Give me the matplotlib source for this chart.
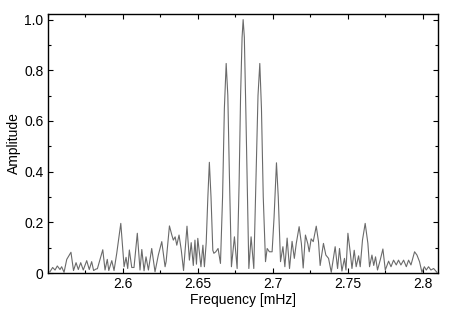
import numpy as np
import matplotlib
matplotlib.use("Agg")
import matplotlib.pyplot as plt
from matplotlib.ticker import MultipleLocator

# frequency [mHz] and amplitude (peaks and troughs)
freq = [
    2.5515, 2.5533, 2.5549, 2.5564, 2.5582, 2.5593, 2.5609, 2.5627, 2.5655, 2.5672,
    2.5689, 2.5704, 2.5720, 2.5737, 2.5760, 2.5777, 2.5793, 2.5806, 2.5822, 2.5831,
    2.5867, 2.5882, 2.5897, 2.5907, 2.5927, 2.5942, 2.5960, 2.5987, 2.6009, 2.6022,
    2.6033, 2.6044, 2.6060, 2.6075, 2.6097, 2.6115, 2.6127, 2.6142, 2.6155, 2.6171,
    2.6193, 2.6215, 2.6237, 2.6260, 2.6282, 2.6289, 2.6311, 2.6327, 2.6337, 2.6349,
    2.6360, 2.6375, 2.6390, 2.6405, 2.6428, 2.6444, 2.6456, 2.6470, 2.6481, 2.6491,
    2.6500, 2.6521, 2.6534, 2.6544, 2.6556, 2.6567, 2.6577, 2.6588, 2.6600, 2.6607,
    2.6620, 2.6635, 2.6651, 2.6665, 2.6677, 2.6689, 2.6700, 2.6710, 2.6724, 2.6744,
    2.6762, 2.6775, 2.6785, 2.6795, 2.6802, 2.6810, 2.6820, 2.6829, 2.6840, 2.6855,
    2.6873, 2.6889, 2.6901, 2.6913, 2.6924, 2.6936, 2.6951, 2.6962, 2.6977, 2.6995,
    2.7008, 2.7016, 2.7024, 2.7036, 2.7051, 2.7067, 2.7080, 2.7095, 2.7111, 2.7128,
    2.7143, 2.7156, 2.7175, 2.7190, 2.7202, 2.7217, 2.7233, 2.7242, 2.7255, 2.7269,
    2.7289, 2.7304, 2.7315, 2.7337, 2.7353, 2.7371, 2.7389, 2.7415, 2.7431, 2.7444,
    2.7460, 2.7477, 2.7487, 2.7500, 2.7515, 2.7527, 2.7542, 2.7555, 2.7571, 2.7582,
    2.7597, 2.7615, 2.7633, 2.7644, 2.7660, 2.7672, 2.7684, 2.7697, 2.7715, 2.7733,
    2.7749, 2.7771, 2.7787, 2.7804, 2.7822, 2.7837, 2.7853, 2.7871, 2.7889, 2.7904,
    2.7920, 2.7944, 2.7960, 2.7977, 2.7993, 2.8009, 2.8022, 2.8037, 2.8053, 2.8071,
    2.8093,
]
amp = [
    0.005, 0.022, 0.012, 0.028, 0.014, 0.025, 0.003, 0.054, 0.082, 0.010,
    0.041, 0.014, 0.041, 0.012, 0.049, 0.014, 0.045, 0.010, 0.016, 0.017,
    0.092, 0.012, 0.054, 0.010, 0.049, 0.010, 0.078, 0.196, 0.025, 0.062,
    0.018, 0.091, 0.022, 0.022, 0.157, 0.012, 0.093, 0.009, 0.064, 0.012,
    0.097, 0.005, 0.071, 0.124, 0.025, 0.045, 0.186, 0.150, 0.130, 0.143,
    0.110, 0.150, 0.090, 0.010, 0.185, 0.051, 0.120, 0.030, 0.130, 0.035,
    0.137, 0.025, 0.110, 0.025, 0.120, 0.300, 0.437, 0.300, 0.090, 0.078,
    0.084, 0.097, 0.038, 0.300, 0.650, 0.827, 0.700, 0.400, 0.025, 0.143,
    0.018, 0.350, 0.700, 0.930, 1.000, 0.930, 0.640, 0.350, 0.018, 0.143,
    0.018, 0.400, 0.700, 0.827, 0.650, 0.300, 0.045, 0.097, 0.084, 0.084,
    0.220, 0.330, 0.435, 0.300, 0.045, 0.104, 0.025, 0.138, 0.018, 0.125,
    0.058, 0.117, 0.183, 0.117, 0.020, 0.150, 0.115, 0.084, 0.135, 0.124,
    0.185, 0.124, 0.030, 0.117, 0.071, 0.058, 0.003, 0.104, 0.018, 0.097,
    0.008, 0.058, 0.012, 0.157, 0.084, 0.018, 0.090, 0.025, 0.068, 0.025,
    0.130, 0.196, 0.117, 0.025, 0.071, 0.030, 0.064, 0.012, 0.051, 0.095,
    0.012, 0.047, 0.025, 0.051, 0.032, 0.051, 0.032, 0.051, 0.025, 0.051,
    0.032, 0.084, 0.071, 0.045, 0.003, 0.025, 0.012, 0.025, 0.012, 0.018,
    0.003,
]

xticks = [2.6, 2.65, 2.7, 2.75, 2.8]
xticklabels = ["2.6", "2.65", "2.7", "2.75", "2.8"]
yticks = [0, 0.2, 0.4, 0.6, 0.8, 1.0]
yticklabels = ["0", "0.2", "0.4", "0.6", "0.8", "1.0"]

plt.rcParams['font.family'] = ['Liberation Sans', 'DejaVu Sans']

fig = plt.figure(figsize=(4.52, 3.19), dpi=100)
ax = fig.add_axes([0.1055, 0.144, 0.8635, 0.812])

ax.plot(freq, amp, color='#6a6a6a', linewidth=0.8, solid_joinstyle='round')

ax.set_xlim(2.55, 2.81)
ax.set_ylim(0, 1.022)

ax.set_xticks(xticks)
ax.set_xticklabels(xticklabels)
ax.set_yticks(yticks)
ax.set_yticklabels(yticklabels)
ax.xaxis.set_minor_locator(MultipleLocator(0.025))
ax.yaxis.set_minor_locator(MultipleLocator(0.1))

ax.tick_params(which='both', direction='in', top=True, right=True,
               labelsize=10, width=0.8, pad=3)
ax.tick_params(which='major', length=3.5)
ax.tick_params(which='minor', length=2)
for s in ax.spines.values():
    s.set_linewidth(1.0)

ax.set_xlabel("Frequency [mHz]", fontsize=10, labelpad=1)
ax.set_ylabel("Amplitude", fontsize=10, labelpad=2)

fig.savefig("out.png", dpi=100)
